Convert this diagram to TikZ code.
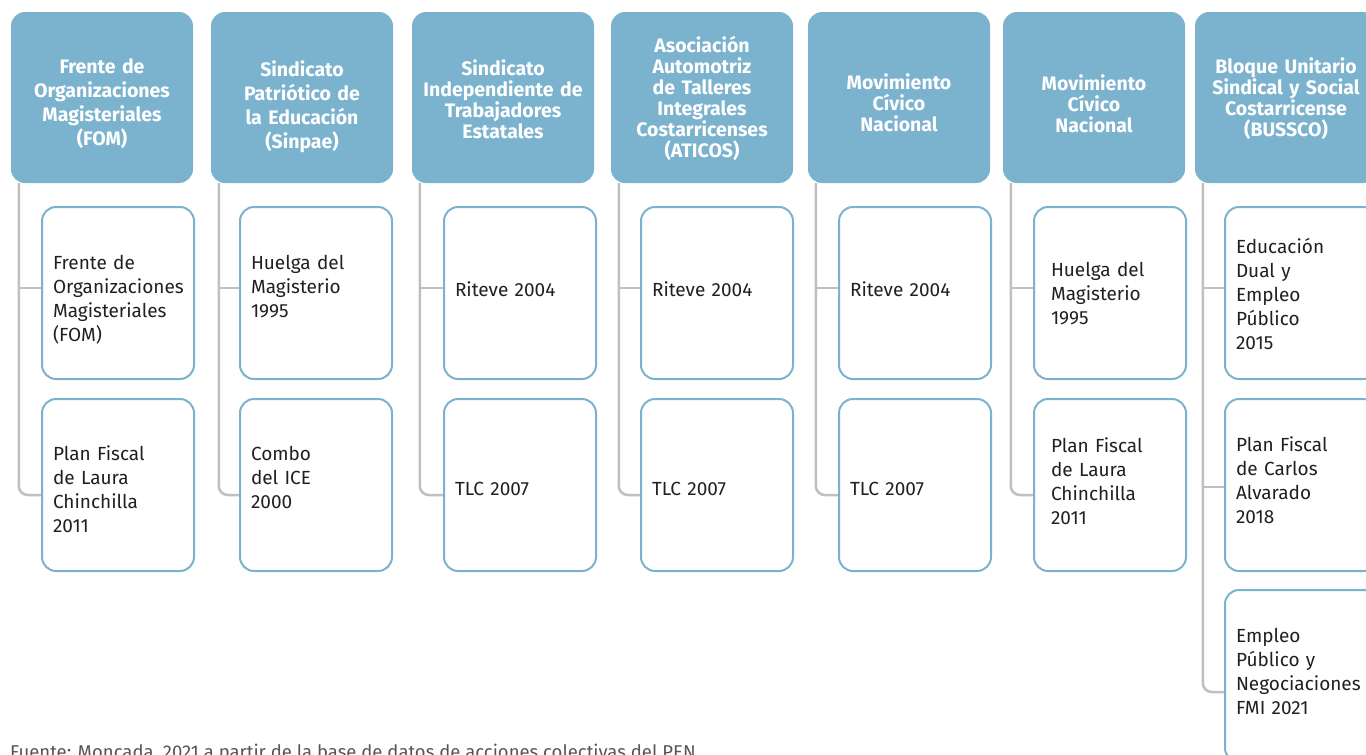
\documentclass[tikz,border=0pt]{standalone}
\usepackage{fontspec}
\setmainfont{Fira Sans}
\usetikzlibrary{positioning, backgrounds}
\definecolor{headblue}{HTML}{7BB3CF}
\definecolor{spinegray}{HTML}{BFBFC3}
\definecolor{notegray}{HTML}{555555}
\definecolor{inkgray}{HTML}{231F20}
\tikzset{
	firstbase/.style={text height=30pt, text depth={30pt-2*(#1)}}
}
\tikzset{
	orghead/.style={
			fill=headblue, rounded corners=14pt, minimum width=182pt, minimum height=171pt,
			inner sep=0pt, text=white, text width=176pt, align=center,
			font=\bfseries\fontsize{19.5}{21}\selectfont
		}
}
\tikzset{
	eventbox/.style={
			draw=headblue, line width=2pt, fill=white, rounded corners=14pt,
			minimum width=152pt, minimum height=172pt, inner xsep=11pt, inner ysep=0pt,
			text width=130pt, align=left, text=inkgray,
			execute at begin node={\hyphenpenalty=10000},
			font=\fontsize{19}{24}\selectfont
		}
}
\tikzset{
	spine/.style={draw=spinegray, line width=2.5pt, rounded corners=9pt}
}

\begin{document}
\begin{tikzpicture}[x=1pt, y=-1pt]

			\useasboundingbox (0,0) rectangle (1366,755);
			\clip (0,0) rectangle (1366,755);

			% organisations
			\begin{scope}
				\node[orghead, firstbase=-24.5pt, font=\bfseries\fontsize{19.5}{24}\selectfont] (h1) at (102,97.5) {Frente de\\Organizaciones\\Magisteriales\\(FOM)};
				\node[orghead, firstbase=-21.5pt, font=\bfseries\fontsize{19.5}{24}\selectfont] (h2) at (302,97.5) {Sindicato\\Patriótico de\\la Educación\\(Sinpae)};
				\node[orghead, firstbase=-22.5pt] (h3) at (503,97.5) {Sindicato\\Independiente de\\Trabajadores\\Estatales};
				\node[orghead, firstbase=-45.5pt] (h4) at (702,97.5) {Asociación\\Automotriz\\de Talleres\\Integrales\\Costarricenses\\(ATICOS)};
				\node[orghead, firstbase=-8.5pt] (h5) at (899,97.5) {Movimiento\\Cívico\\Nacional};
				\node[orghead, firstbase=-7.5pt] (h6) at (1094,97.5) {Movimiento\\Cívico\\Nacional};
				\node[orghead, firstbase=-24.5pt] (h7) at (1286,97.5) {Bloque Unitario\\Sindical y Social\\Costarricense\\(BUSSCO)};
			\end{scope}

			% events
			\begin{scope}
				\node[eventbox, firstbase=-24pt] (c11) at (118,293) {Frente de\\Organizaciones\\Magisteriales\\(FOM)};
				\node[eventbox, firstbase=-25pt] (c12) at (118,485) {Plan Fiscal\\de Laura\\Chinchilla\\2011};

				\node[eventbox, firstbase=-24pt] (c21) at (316,293) {Huelga del\\Magisterio\\1995};
				\node[eventbox, firstbase=-25pt] (c22) at (316,485) {Combo\\del ICE\\2000};

				\node[eventbox, firstbase=3pt] (c31) at (520,293) {Riteve 2004};
				\node[eventbox, firstbase=10pt] (c32) at (520,485) {TLC 2007};

				\node[eventbox, firstbase=3pt] (c41) at (717,293) {Riteve 2004};
				\node[eventbox, firstbase=10pt] (c42) at (717,485) {TLC 2007};

				\node[eventbox, firstbase=3pt] (c51) at (915,293) {Riteve 2004};
				\node[eventbox, firstbase=10pt] (c52) at (915,485) {TLC 2007};

				\node[eventbox, firstbase=-17pt, inner xsep=17pt, text width=118pt] (c61) at (1110,293) {Huelga del\\Magisterio\\1995};
				\node[eventbox, firstbase=-33pt, inner xsep=17pt, text width=118pt] (c62) at (1110,485) {Plan Fiscal\\de Laura\\Chinchilla\\2011};

				\node[eventbox, firstbase=-40pt] (c71) at (1301,293) {Educación\\Dual y\\Empleo\\Público\\2015};
				\node[eventbox, firstbase=-34pt] (c72) at (1301,485) {Plan Fiscal\\de Carlos\\Alvarado\\2018};
				\node[eventbox, firstbase=-34pt] (c73) at (1301,676) {Empleo\\Público y\\Negociaciones\\FMI 2021};
			\end{scope}

			% spines
			\begin{scope}[on background layer]
				\draw[spine] ([xshift=8pt]h1.south west) |- ([yshift=-10pt]c12.west);
				\draw[spine] ([xshift=8pt]h2.south west) |- ([yshift=-10pt]c22.west);
				\draw[spine] ([xshift=8pt]h3.south west) |- ([yshift=-10pt]c32.west);
				\draw[spine] ([xshift=8pt]h4.south west) |- ([yshift=-10pt]c42.west);
				\draw[spine] ([xshift=8pt]h5.south west) |- ([yshift=-10pt]c52.west);
				\draw[spine] ([xshift=8pt]h6.south west) |- ([yshift=-10pt]c62.west);
				\draw[spine] ([xshift=8pt]h7.south west) |- ([yshift=-16pt]c73.west);

				\draw[spine, sharp corners] ([xshift=8pt]h1.south west) |- ([yshift=5pt]c11.west);
				\draw[spine, sharp corners] ([xshift=8pt]h2.south west) |- ([yshift=5pt]c21.west);
				\draw[spine, sharp corners] ([xshift=8pt]h3.south west) |- ([yshift=5pt]c31.west);
				\draw[spine, sharp corners] ([xshift=8pt]h4.south west) |- ([yshift=5pt]c41.west);
				\draw[spine, sharp corners] ([xshift=8pt]h5.south west) |- ([yshift=5pt]c51.west);
				\draw[spine, sharp corners] ([xshift=8pt]h6.south west) |- ([yshift=5pt]c61.west);
				\draw[spine, sharp corners] ([xshift=8pt]h7.south west) |- ([yshift=5pt]c71.west);
				\draw[spine, sharp corners] ([xshift=8pt]h7.south west) |- ([yshift=-2pt]c72.west);
			\end{scope}

			\node[anchor=base west, inner sep=0pt, text=notegray, font=\fontsize{18.5}{20}\selectfont] (src) at (10,758) {Fuente: Moncada, 2021 a partir de la base de datos de acciones colectivas del PEN.};

		\end{tikzpicture}
\end{document}
